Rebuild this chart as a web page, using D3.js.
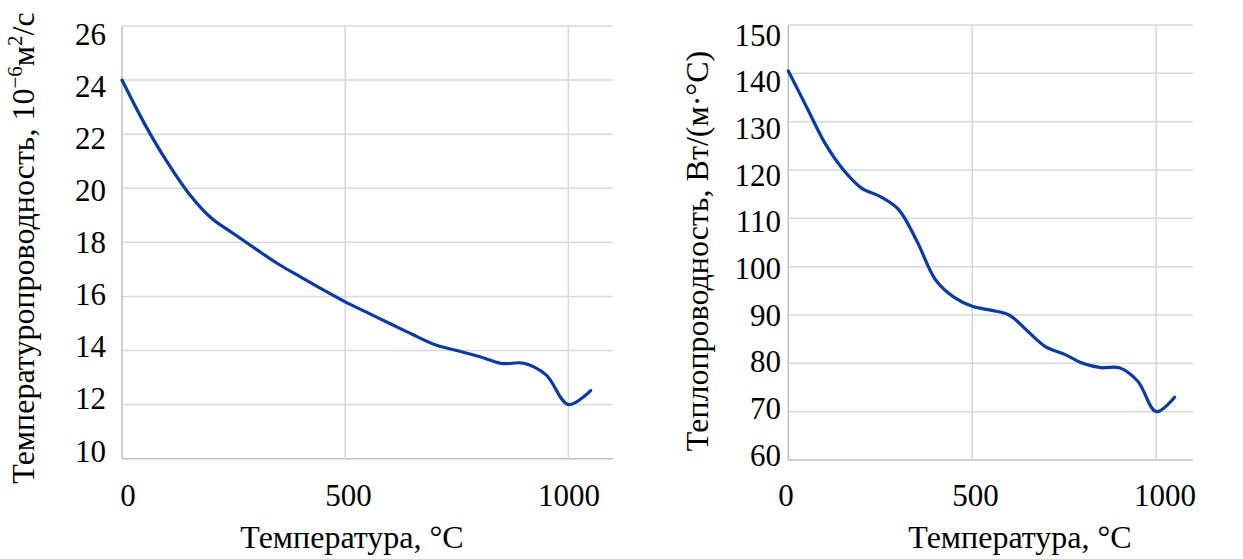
<!DOCTYPE html>
<html><head><meta charset="utf-8">
<script src="https://cdn.jsdelivr.net/npm/d3@7"></script>
<style>
body{margin:0;background:#fff}
svg text{font-family:"Liberation Serif","Times New Roman",serif;fill:#000}
</style>
</head><body>
<svg id="chart" width="1243" height="559"></svg>
<script>
// ---- data ----
const temperature = [0,50,100,150,200,250,300,350,400,450,500,550,600,650,700,750,800,850,900,950,1000,1050];
const diffusivity = [24.0,22.4,21.0,19.8,18.9,18.32,17.75,17.2,16.72,16.25,15.8,15.4,15.0,14.6,14.22,14.0,13.78,13.52,13.53,13.1,12.0,12.52];
const conductivity = [140.5,133.0,125.5,120.0,116.2,114.5,111.8,105.2,97.3,93.7,91.8,91.0,90.0,86.7,83.4,81.9,80.0,79.1,79.1,76.3,70.0,73.0];
const xTicks = [0,500,1000];
const diffTicks = [10,12,14,16,18,20,22,24,26];
const condTicks = [60,70,80,90,100,110,120,130,140,150];
const xTitle = "Температура, °C";

const FONT = "'Liberation Serif','Times New Roman',serif";
const svg = d3.select("#chart");
const lineColor = "#0a3aa3";

const panels = [
  {values: diffusivity, ticks: diffTicks, yDomain:[10,26],
   px:[122,613], py:[458.7,26], lx:[128,569], ly:[451,34], labelRight:106,
   titleX:34, titleY:248, xTitleX:352},
  {values: conductivity, ticks: condTicks, yDomain:[60,150],
   px:[788.3,1193], py:[460,25], lx:[786,1165], ly:[455,35], labelRight:781,
   titleX:708, titleY:251, xTitleX:1020}
];

panels.forEach((p,i)=>{
  const x = d3.scaleLinear().domain([0,1100]).range(p.px);
  const y = d3.scaleLinear().domain(p.yDomain).range(p.py);
  const xl = d3.scaleLinear().domain([0,1000]).range(p.lx);
  const yl = d3.scaleLinear().domain(p.yDomain).range(p.ly);
  const g = svg.append("g");

  // horizontal gridlines
  g.selectAll(".hg").data(p.ticks).join("line")
    .attr("x1",p.px[0]).attr("x2",p.px[1])
    .attr("y1",d=>y(d)).attr("y2",d=>y(d))
    .attr("stroke", d=>d===p.yDomain[0] ? "#bfbfbf" : "#d9d9d9").attr("stroke-width",1.5);
  // vertical gridlines
  g.selectAll(".vg").data(xTicks).join("line")
    .attr("x1",d=>x(d)).attr("x2",d=>x(d))
    .attr("y1",p.py[1]).attr("y2",p.py[0])
    .attr("stroke", d=>d===0 ? "#bfbfbf" : "#d9d9d9").attr("stroke-width",1.5);

  // y tick labels
  g.selectAll(".yl").data(p.ticks).join("text")
    .attr("x",p.labelRight).attr("y",d=>yl(d))
    .attr("text-anchor","end").attr("dominant-baseline","central")
    .attr("font-family",FONT).attr("font-size",31).text(d=>d);
  // x tick labels
  g.selectAll(".xl").data(xTicks).join("text")
    .attr("x",d=>xl(d)).attr("y",506)
    .attr("text-anchor","middle")
    .attr("font-family",FONT).attr("font-size",31).text(d=>d);

  // x title
  g.append("text").attr("x",p.xTitleX).attr("y",548)
    .attr("text-anchor","middle").attr("font-family",FONT).attr("font-size",32).text(xTitle);

  // y title
  const t = g.append("text")
    .attr("transform",`translate(${p.titleX},${p.titleY}) rotate(-90)`)
    .attr("text-anchor","middle").attr("font-family",FONT).attr("font-size",32);
  if(i===0){
    t.append("tspan").text("Температуропроводность, 10");
    t.append("tspan").attr("dy",-12).attr("font-size",21).text("−6");
    t.append("tspan").attr("dy",12).text("м");
    t.append("tspan").attr("dy",-12).attr("font-size",21).text("2");
    t.append("tspan").attr("dy",12).text("/с");
  } else {
    t.text("Теплопроводность, Вт/(м·°С)");
  }

  // data line
  const line = d3.line()
    .x((d,k)=>x(temperature[k])).y(d=>y(d))
    .curve(d3.curveCatmullRom.alpha(0.5));
  g.append("path").datum(p.values)
    .attr("d",line).attr("fill","none")
    .attr("stroke",lineColor).attr("stroke-width",3.2)
    .attr("stroke-linejoin","round").attr("stroke-linecap","round");
});
</script>
</body></html>
